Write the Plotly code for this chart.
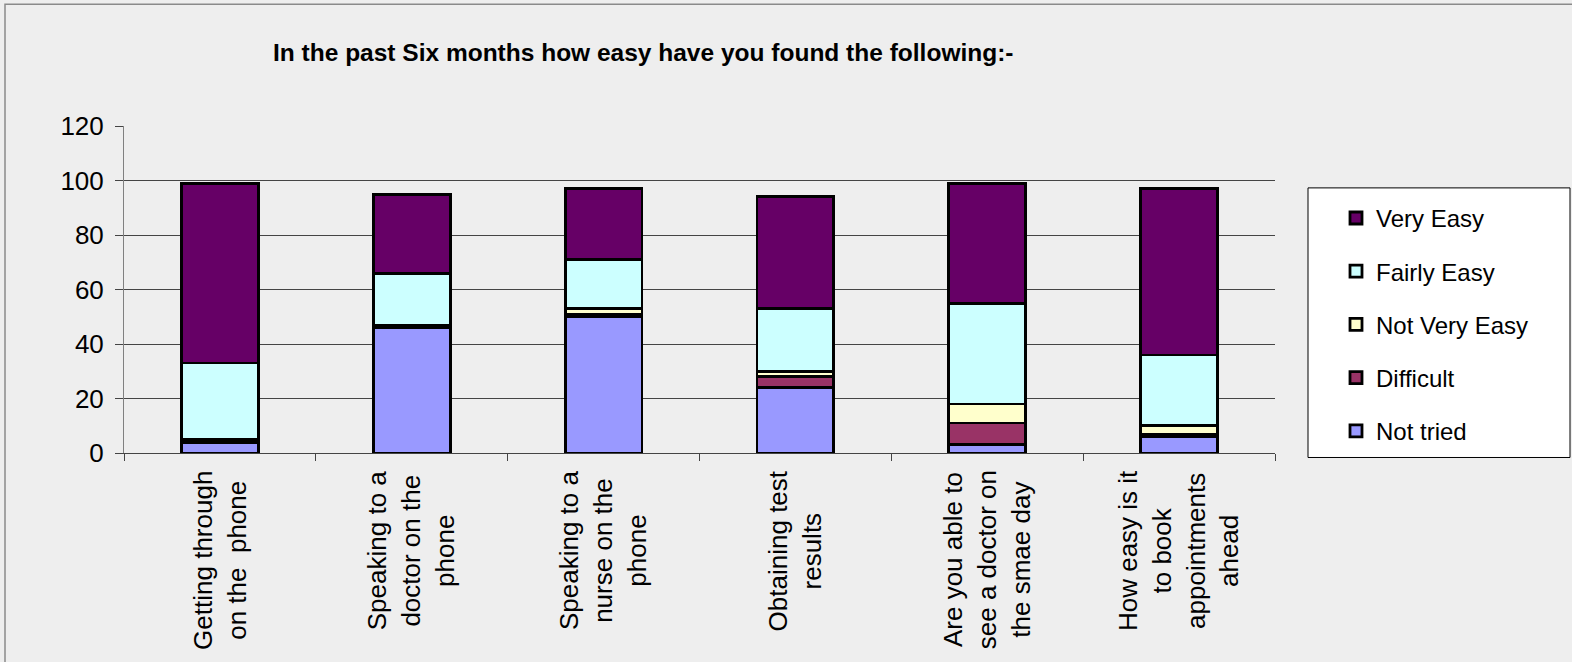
import plotly.graph_objects as go

# Survey categories (line breaks as shown under each bar)
categories = [
    "Getting through<br>on the  phone",
    "Speaking to a<br>doctor on the<br>phone",
    "Speaking to a<br>nurse on the<br>phone",
    "Obtaining test<br>results",
    "Are you able to<br>see a doctor on<br>the smae day",
    "How easy is it<br>to book<br>appointments<br>ahead",
]
category_keys = ["c1", "c2", "c3", "c4", "c5", "c6"]

# Responses per category (stacked bottom to top)
not_tried = [4, 46, 50, 24, 3, 6]
difficult = [1, 1, 1, 4, 8, 1]
not_very_easy = [0, 0, 2, 2, 7, 3]
fairly_easy = [28, 19, 18, 23, 37, 26]
very_easy = [66, 29, 26, 41, 44, 61]

series = [
    ("Not tried", not_tried, "#9999FF"),
    ("Difficult", difficult, "#993366"),
    ("Not Very Easy", not_very_easy, "#FFFFCC"),
    ("Fairly Easy", fairly_easy, "#CCFFFF"),
    ("Very Easy", very_easy, "#660066"),
]

y_ticks = [0, 20, 40, 60, 80, 100, 120]

BG = "#EEEEEE"
FONT = "Liberation Sans, Arial, sans-serif"

# plot-area geometry in pixels
W, H = 1572, 662
L, R, T, B = 124, 1275, 126, 453.5


def px_x(p):
    return (p - L) / (R - L)


def px_y(p):
    return (B - p) / (B - T)


fig = go.Figure()
n = len(series)
for i, (name, vals, color) in enumerate(series):
    fig.add_trace(go.Bar(
        x=category_keys, y=vals, name=name, legendgroup=name,
        legendrank=n - i,
        marker=dict(color=color, line=dict(color="black", width=2.8)),
    ))

# category labels, centred lines, rotated under each bar
for key, label in zip(category_keys, categories):
    fig.add_annotation(
        x=key, xref="x", y=px_y(469), yref="paper",
        text=label, showarrow=False, textangle=-90,
        xanchor="center", yanchor="top", align="center",
        font=dict(family=FONT, size=26, color="black"),
    )

# outer chart frame
fig.add_shape(type="rect", xref="paper", yref="paper",
              x0=px_x(5), x1=px_x(1700), y0=px_y(800), y1=px_y(4),
              line=dict(color="#8a8a8a", width=1.5), fillcolor="rgba(0,0,0,0)",
              layer="below")
# legend frame
fig.add_shape(type="rect", xref="paper", yref="paper",
              x0=px_x(1308), x1=px_x(1570), y0=px_y(458), y1=px_y(188),
              line=dict(color="black", width=1), fillcolor="white",
              layer="below")

fig.update_layout(
    width=W, height=H,
    margin=dict(l=L, r=W - R, t=T, b=H - B),
    paper_bgcolor=BG, plot_bgcolor=BG,
    barmode="stack", bargap=0.6,
    font=dict(family=FONT, color="black"),
    title=dict(
        text="<b>In the past Six months how easy have you found the following:-</b>",
        x=px_x(273), xref="paper", xanchor="left",
        y=1 - 52 / H, yref="container", yanchor="middle",
        font=dict(family=FONT, size=24.5, color="black"),
    ),
    legend=dict(
        x=px_x(1336), xanchor="left", y=px_y(196), yanchor="top",
        bgcolor="rgba(0,0,0,0)", borderwidth=0,
        font=dict(family=FONT, size=24, color="black"),
        traceorder="grouped", tracegroupgap=19,
    ),
    xaxis=dict(
        type="category", showticklabels=False, showgrid=False,
        ticks="outside", tickson="boundaries", ticklen=7, tickcolor="#444",
        showline=True, linecolor="#444", linewidth=1,
    ),
    yaxis=dict(
        range=[0, 120], tickvals=y_ticks, ticks="outside", ticklen=8,
        tickcolor="#444", showgrid=True, gridcolor="#444", gridwidth=1,
        showline=True, linecolor="#808080", linewidth=1, zeroline=False,
        ticklabelstandoff=6,
        tickfont=dict(family=FONT, size=26, color="black"),
    ),
)

fig.write_html("out.html")
